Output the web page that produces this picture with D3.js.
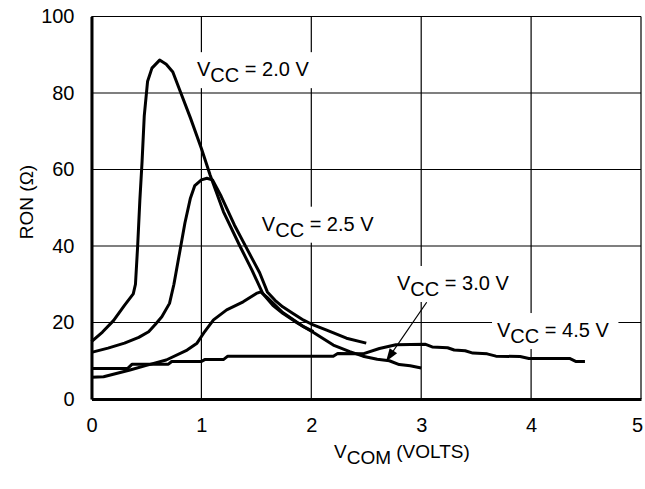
<!DOCTYPE html>
<html>
<head>
<meta charset="utf-8">
<script src="https://cdn.jsdelivr.net/npm/d3@7"></script>
<style>
  body { margin: 0; background: #fff; }
  svg { display: block; font-family: "Liberation Sans", Arial, sans-serif; }
</style>
</head>
<body>
<svg width="645" height="489"></svg>
<script>
// x ticks (volts) and y ticks (ohms)
var xTicks = [0, 1, 2, 3, 4, 5];
var yTicks = [0, 20, 40, 60, 80, 100];

// RON vs VCOM, one array per supply voltage: [volts, ohms]
var vcc20 = [[0, 15], [0.1, 17.5], [0.2, 20.5], [0.3, 24.5], [0.38, 27.5], [0.4, 30], [0.42, 40],
  [0.44, 52], [0.46, 62], [0.48, 74], [0.51, 83], [0.55, 86.5], [0.62, 88.6], [0.68, 87.5],
  [0.74, 85.5], [0.8, 81], [0.9, 73.5], [1.0, 65.5], [1.08, 58.5], [1.2, 49], [1.35, 40],
  [1.46, 33.7], [1.56, 27.5], [1.65, 24.5], [1.74, 22.4], [1.85, 20.3], [1.93, 18.9], [2.02, 17.6]];

var vcc25 = [[0, 12.2], [0.15, 13.3], [0.3, 14.6], [0.43, 16.1], [0.52, 17.6], [0.58, 19.5],
  [0.64, 21.5], [0.71, 25], [0.75, 30], [0.8, 38], [0.85, 46], [0.9, 52.5], [0.94, 55.8],
  [1.0, 57.3], [1.05, 57.7], [1.1, 57.3], [1.18, 53], [1.3, 45.5], [1.41, 39.5], [1.53, 33],
  [1.6, 28], [1.67, 25.8], [1.74, 24.1], [1.83, 22.4], [1.93, 20.6], [2.0, 19.6], [2.14, 18],
  [2.32, 15.9], [2.5, 14.6]];

var vcc30 = [[0, 5.7], [0.11, 5.8], [0.35, 7.6], [0.5, 8.8], [0.68, 10.2], [0.87, 12.8],
  [0.96, 14.6], [1.02, 17.2], [1.11, 20.7], [1.23, 23.3], [1.38, 25.4], [1.5, 27.6], [1.54, 28],
  [1.6, 26.5], [1.74, 22.6], [1.93, 18.9], [2.02, 17.4], [2.2, 14.1], [2.35, 12.4], [2.47, 11.2],
  [2.6, 10.4], [2.71, 10.0], [2.8, 9.0], [2.9, 8.7], [3.0, 8.1]];

var vcc45 = [[0, 8.0], [0.33, 8.0], [0.37, 9.1], [0.7, 9.1], [0.73, 9.8], [1.0, 9.8], [1.03, 10.3],
  [1.2, 10.3], [1.24, 11.2], [2.2, 11.2], [2.24, 11.9], [2.47, 11.8], [2.62, 13.2], [2.77, 14.2],
  [3.04, 14.3], [3.1, 13.6], [3.24, 13.4], [3.3, 12.8], [3.4, 12.6], [3.47, 12.0], [3.6, 11.8],
  [3.68, 11.2], [3.9, 11.1], [3.98, 10.6], [4.35, 10.6], [4.41, 9.8], [4.49, 9.8]];

var curves = [vcc20, vcc25, vcc30, vcc45];

// curve labels: text after the subscript, anchor in data units
var labelText = ['= 2.0 V', '= 2.5 V', '= 3.0 V', '= 4.5 V'];
var labelAt = [[0.96, 84.4], [1.55, 44], [2.78, 28.5], [3.69, 16.2]];

var svg = d3.select('svg');

var x = d3.scaleLinear().domain([0, 5]).range([91.5, 641]);
var y = d3.scaleLinear().domain([0, 100]).range([399, 16.5]);

var grid = svg.append('g').attr('class', 'grid');

grid.selectAll('line.v')
  .data(xTicks)
  .enter()
  .append('line')
  .attr('class', 'v')
  .attr('x1', function (d) { return x(d); })
  .attr('x2', function (d) { return x(d); })
  .attr('y1', y(0))
  .attr('y2', y(100))
  .attr('stroke', '#000')
  .attr('stroke-width', 1.2);

grid.selectAll('line.h')
  .data(yTicks)
  .enter()
  .append('line')
  .attr('class', 'h')
  .attr('x1', x(0))
  .attr('x2', x(5))
  .attr('y1', function (d) { return y(d); })
  .attr('y2', function (d) { return y(d); })
  .attr('stroke', '#000')
  .attr('stroke-width', 1.2);

// labels with white boxes that break the grid
var labels = svg.append('g').attr('class', 'labels');

labelText.forEach(function (t, i) {
  var g = labels.append('g');
  var txt = g.append('text')
    .attr('x', x(labelAt[i][0]))
    .attr('y', y(labelAt[i][1]))
    .attr('font-size', 20)
    .attr('fill', '#000');
  txt.append('tspan').text('V');
  txt.append('tspan').attr('dy', 6).text('CC');
  txt.append('tspan').attr('dy', -6).text(' ' + t);
  var b = txt.node().getBBox();
  g.insert('rect', 'text')
    .attr('x', b.x - 5)
    .attr('y', b.y - 6)
    .attr('width', b.width + 14)
    .attr('height', b.height + 8)
    .attr('fill', '#fff');
});

var line = d3.line()
  .x(function (d) { return x(d[0]); })
  .y(function (d) { return y(d[1]); });

svg.append('g')
  .attr('class', 'curves')
  .selectAll('path')
  .data(curves)
  .enter()
  .append('path')
  .attr('d', line)
  .attr('fill', 'none')
  .attr('stroke', '#000')
  .attr('stroke-width', 3)
  .attr('stroke-linejoin', 'round');

// arrow from the 3.0 V label to its curve
var a0 = [x(3.05), y(25.3)], a1 = [x(2.68), y(9.8)];
var ang = Math.atan2(a1[1] - a0[1], a1[0] - a0[0]);
svg.append('line')
  .attr('x1', a0[0]).attr('y1', a0[1])
  .attr('x2', a1[0] - 8 * Math.cos(ang)).attr('y2', a1[1] - 8 * Math.sin(ang))
  .attr('stroke', '#000')
  .attr('stroke-width', 1.2);
svg.append('path')
  .attr('d', 'M0,0L-13,-4.5L-13,4.5Z')
  .attr('transform', 'translate(' + a1[0] + ',' + a1[1] + ') rotate(' + ang * 180 / Math.PI + ')')
  .attr('fill', '#000');

// axes
svg.append('g')
  .attr('transform', 'translate(0,' + y(0) + ')')
  .call(d3.axisBottom(x).tickValues(xTicks).tickFormat(d3.format('d')).tickSize(0).tickPadding(19))
  .call(function (g) {
    g.select('.domain').attr('stroke-width', 3);
    g.selectAll('text').attr('font-size', 20).attr('font-family', null).attr('fill', '#000');
    // last label sits at the page edge
    g.selectAll('text').filter(function (d) { return d === 5; }).attr('dx', -4);
  });

svg.append('g')
  .attr('transform', 'translate(' + x(0) + ',0)')
  .call(d3.axisLeft(y).tickValues(yTicks).tickFormat(d3.format('d')).tickSize(0).tickPadding(17))
  .call(function (g) {
    g.select('.domain').attr('stroke-width', 3);
    g.selectAll('text').attr('font-size', 20).attr('font-family', null).attr('fill', '#000');
  });

// axis titles
svg.append('text')
  .attr('transform', 'translate(33,202) rotate(-90)')
  .attr('text-anchor', 'middle')
  .attr('font-size', 19)
  .text('RON (\u03A9)');

var xt = svg.append('text')
  .attr('x', 334)
  .attr('y', 458)
  .attr('font-size', 19);
xt.append('tspan').text('V');
xt.append('tspan').attr('dy', 6).text('COM');
xt.append('tspan').attr('dy', -6).text(' (VOLTS)');
</script>
</body>
</html>
